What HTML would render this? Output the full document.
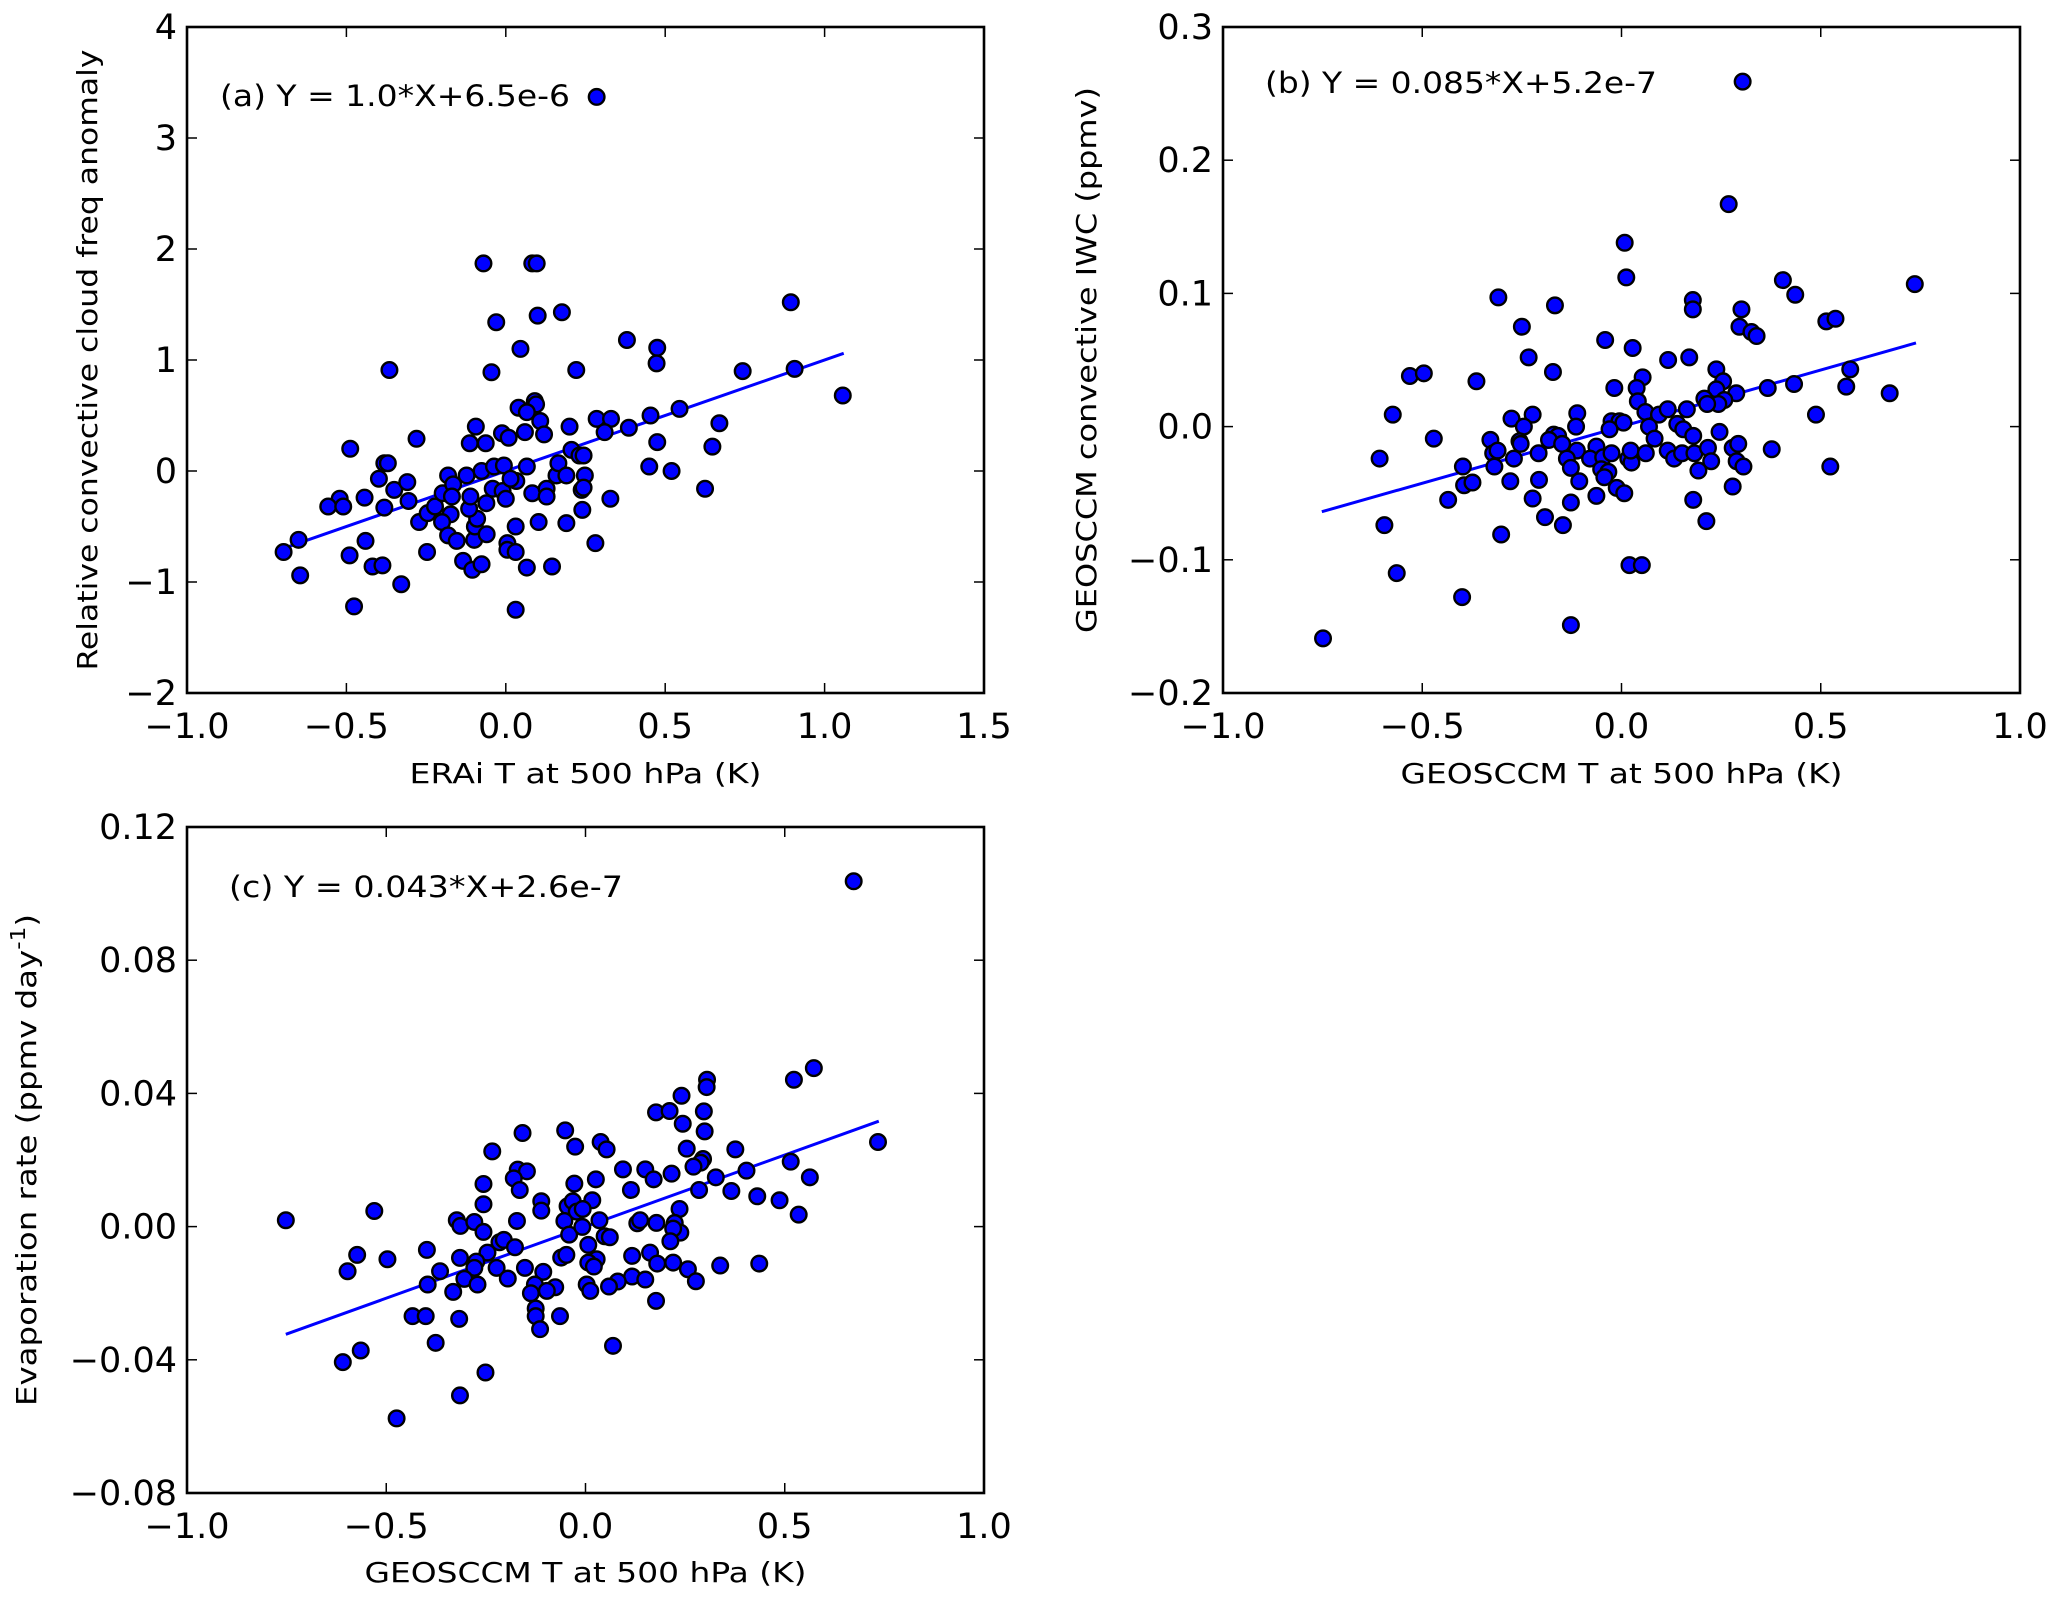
<!DOCTYPE html>
<html><head><meta charset="utf-8"><style>
html,body{margin:0;padding:0;background:#fff;}
svg{display:block;font-family:"DejaVu Sans","Liberation Sans",sans-serif;}
</style></head><body>
<svg id="fig" width="2067" height="1605" viewBox="0 0 2067 1605" xmlns="http://www.w3.org/2000/svg"></svg>
<script>
// ---- Panel (a) data ----
const aX = [0.285,-0.07,0.083,0.097,0.894,-0.03,0.10,0.176,0.38,0.475,0.473,0.046,-0.365,-0.045,0.221,0.743,0.906,1.057,0.091,0.095,0.04,0.066,0.108,0.285,0.33,0.31,0.386,0.454,0.545,0.67,0.648,0.475,0.45,0.52,0.625,-0.094,-0.012,0.009,0.06,0.12,-0.113,-0.063,0.2,-0.28,-0.488,-0.381,-0.37,-0.398,-0.35,-0.309,-0.305,-0.381,-0.443,-0.521,-0.557,-0.51,-0.272,-0.245,-0.222,-0.198,-0.181,-0.165,-0.169,-0.173,-0.2,-0.181,-0.154,-0.247,-0.44,-0.49,-0.418,-0.387,-0.328,-0.476,-0.645,-0.65,-0.697,-0.134,-0.105,-0.076,-0.099,-0.097,-0.06,-0.09,-0.115,-0.111,-0.123,-0.076,-0.061,-0.041,-0.037,-0.01,0.0,-0.006,0.033,0.015,0.066,0.005,0.005,0.031,0.031,0.031,0.066,0.083,0.103,0.128,0.128,0.145,0.159,0.165,0.19,0.19,0.206,0.231,0.244,0.248,0.238,0.244,0.24,0.281,0.328];
const aY = [3.37,1.87,1.87,1.87,1.52,1.34,1.40,1.43,1.18,1.11,0.97,1.10,0.91,0.89,0.91,0.90,0.92,0.68,0.63,0.60,0.57,0.53,0.45,0.47,0.47,0.35,0.39,0.50,0.56,0.43,0.22,0.26,0.04,0.00,-0.16,0.40,0.34,0.30,0.35,0.33,0.25,0.25,0.40,0.29,0.20,0.07,0.07,-0.07,-0.17,-0.10,-0.27,-0.33,-0.24,-0.25,-0.32,-0.32,-0.46,-0.38,-0.32,-0.20,-0.04,-0.12,-0.23,-0.39,-0.46,-0.58,-0.63,-0.73,-0.63,-0.76,-0.86,-0.85,-1.02,-1.22,-0.94,-0.62,-0.73,-0.81,-0.89,-0.84,-0.62,-0.50,-0.57,-0.43,-0.34,-0.23,-0.04,0.0,-0.29,-0.16,0.04,-0.18,-0.25,0.05,-0.09,-0.07,0.04,-0.65,-0.71,-0.73,-0.50,-1.25,-0.87,-0.20,-0.46,-0.16,-0.23,-0.86,-0.04,0.07,-0.04,-0.47,0.19,0.14,0.14,-0.04,-0.17,-0.15,-0.35,-0.65,-0.25];
const aFit = [1.0, 6.5e-6, -0.693, 1.06];
const aXTicks = [-1.0,-0.5,0.0,0.5,1.0,1.5];
const aYTicks = [-2,-1,0,1,2,3,4];
const aXTickLabels = ["\u22121.0","\u22120.5","0.0","0.5","1.0","1.5"];
const aYTickLabels = ["\u22122","\u22121","0","1","2","3","4"];

// ---- Panel (b) data ----
const bX = [0.304,0.269,0.008,0.012,-0.309,-0.167,-0.25,0.405,0.436,0.736,0.179,0.179,0.301,0.296,0.326,0.339,0.514,0.537,-0.041,0.028,-0.233,0.117,0.17,-0.531,-0.496,-0.364,-0.172,0.238,0.574,0.255,0.053,0.038,-0.018,0.041,0.367,0.433,0.564,0.673,0.238,0.288,0.258,0.208,0.243,0.215,0.164,-0.574,-0.276,-0.223,0.488,0.06,0.094,0.116,-0.111,-0.245,-0.114,-0.025,-0.005,0.005,-0.03,0.069,0.14,0.155,0.18,0.246,-0.471,-0.329,-0.256,-0.253,-0.17,-0.159,-0.182,-0.149,-0.112,-0.063,0.083,-0.607,-0.322,-0.311,-0.27,-0.208,-0.137,-0.079,-0.046,-0.025,0.017,0.025,0.023,0.061,0.116,0.132,0.152,0.183,0.217,0.225,0.279,0.293,0.289,0.306,0.377,0.524,-0.398,-0.319,-0.127,-0.051,-0.033,-0.043,0.193,-0.395,-0.374,-0.279,-0.207,-0.106,-0.012,0.007,0.279,-0.435,-0.223,-0.063,0.18,-0.127,-0.192,-0.595,-0.147,0.213,-0.302,0.02,0.051,-0.564,-0.4,-0.127,-0.749];
const bY = [0.259,0.167,0.138,0.112,0.097,0.091,0.075,0.110,0.099,0.107,0.095,0.088,0.088,0.075,0.071,0.068,0.079,0.081,0.065,0.059,0.052,0.050,0.052,0.038,0.040,0.034,0.041,0.043,0.043,0.034,0.037,0.029,0.029,0.019,0.029,0.032,0.030,0.025,0.028,0.025,0.020,0.021,0.017,0.017,0.013,0.009,0.006,0.009,0.009,0.011,0.009,0.013,0.010,0.0,0.0,0.004,0.004,0.003,-0.002,0.0,0.002,-0.002,-0.007,-0.004,-0.009,-0.010,-0.011,-0.013,-0.006,-0.007,-0.010,-0.013,-0.018,-0.015,-0.009,-0.024,-0.020,-0.018,-0.024,-0.020,-0.024,-0.024,-0.023,-0.020,-0.024,-0.027,-0.018,-0.020,-0.018,-0.024,-0.020,-0.020,-0.016,-0.026,-0.016,-0.013,-0.026,-0.030,-0.017,-0.030,-0.030,-0.030,-0.031,-0.032,-0.034,-0.038,-0.033,-0.044,-0.042,-0.041,-0.040,-0.041,-0.046,-0.050,-0.045,-0.055,-0.054,-0.052,-0.055,-0.057,-0.068,-0.074,-0.074,-0.071,-0.081,-0.104,-0.104,-0.110,-0.128,-0.149,-0.159];
const bFit = [0.085, 5.2e-7, -0.752, 0.739];
const bXTicks = [-1.0,-0.5,0.0,0.5,1.0];
const bYTicks = [-0.2,-0.1,0.0,0.1,0.2,0.3];
const bXTickLabels = ["\u22121.0","\u22120.5","0.0","0.5","1.0"];
const bYTickLabels = ["\u22120.2","\u22120.1","0.0","0.1","0.2","0.3"];

// ---- Panel (c) data ----
const cX = [0.673,0.573,0.523,0.305,0.304,0.241,0.177,0.211,0.297,0.244,0.299,-0.158,-0.051,-0.026,0.038,0.053,0.254,0.376,0.734,-0.234,0.295,0.289,0.271,0.515,-0.17,-0.147,0.094,0.15,0.216,0.404,-0.18,0.026,0.171,0.327,0.563,-0.256,-0.028,-0.165,0.114,0.285,0.366,0.431,0.487,-0.256,-0.111,-0.111,0.017,-0.045,-0.032,-0.022,-0.007,-0.53,0.236,0.535,-0.752,-0.323,-0.314,-0.279,-0.172,-0.053,0.035,0.13,0.137,0.178,0.224,-0.256,-0.041,-0.008,0.048,0.061,0.238,0.22,-0.216,-0.205,0.007,0.213,-0.573,-0.497,-0.398,-0.246,-0.177,-0.061,-0.048,0.117,0.162,-0.315,-0.274,0.028,0.18,0.22,0.338,0.436,-0.597,-0.365,-0.279,-0.223,-0.152,-0.106,0.007,0.021,0.257,-0.304,-0.271,-0.195,0.117,0.15,0.277,-0.396,-0.127,0.003,0.081,0.059,-0.076,0.012,-0.332,-0.137,-0.097,0.177,-0.125,-0.434,-0.401,-0.125,-0.064,-0.317,-0.114,-0.376,0.069,-0.564,-0.609,-0.251,-0.315,-0.474];
const cY = [0.1037,0.0476,0.0441,0.0441,0.0419,0.0393,0.0343,0.0347,0.0346,0.0309,0.0286,0.0281,0.0289,0.024,0.0254,0.0232,0.0234,0.0232,0.0254,0.0226,0.0203,0.0192,0.018,0.0195,0.0171,0.0166,0.0172,0.0172,0.0159,0.0168,0.0145,0.0142,0.0142,0.0148,0.0148,0.0128,0.0129,0.011,0.011,0.011,0.0107,0.0091,0.0079,0.0067,0.0076,0.0048,0.0079,0.0061,0.0076,0.0045,0.0053,0.0047,0.0053,0.0036,0.0019,0.0019,0.0002,0.0014,0.0017,0.0017,0.0019,0.001,0.0019,0.0011,0.0011,-0.0016,-0.0024,-0.0001,-0.0029,-0.0032,-0.0018,-0.0006,-0.0047,-0.004,-0.0055,-0.0044,-0.0085,-0.0098,-0.007,-0.0078,-0.0062,-0.0093,-0.0085,-0.0088,-0.0078,-0.0094,-0.0105,-0.0098,-0.0111,-0.0108,-0.0117,-0.0111,-0.0134,-0.0134,-0.0124,-0.0124,-0.0124,-0.0136,-0.0108,-0.012,-0.0128,-0.0157,-0.0174,-0.0156,-0.015,-0.0159,-0.0164,-0.0174,-0.0174,-0.0174,-0.0165,-0.018,-0.0182,-0.0193,-0.0196,-0.02,-0.0193,-0.0223,-0.0246,-0.0269,-0.0269,-0.0269,-0.0269,-0.0277,-0.0308,-0.0349,-0.0358,-0.0372,-0.0407,-0.0438,-0.0507,-0.0576];
const cFit = [0.043, 2.6e-7, -0.752, 0.736];
const cXTicks = [-1.0,-0.5,0.0,0.5,1.0];
const cYTicks = [-0.08,-0.04,0.0,0.04,0.08,0.12];
const cXTickLabels = ["\u22121.0","\u22120.5","0.0","0.5","1.0"];
const cYTickLabels = ["\u22120.08","\u22120.04","0.00","0.04","0.08","0.12"];

const NS = "http://www.w3.org/2000/svg";
const svg = document.getElementById('fig');
function mk(tag, attrs, parent) {
  const e = document.createElementNS(NS, tag);
  for (const k in attrs) e.setAttribute(k, attrs[k]);
  (parent || svg).appendChild(e);
  return e;
}

function panel(o) {
  const g = mk('g', {});
  
  
  const L = o.L, R = o.R, T = o.T, B = o.B;
  const sx = v => L + (v - o.xmin) / (o.xmax - o.xmin) * (R - L);
  const sy = v => B - (v - o.ymin) / (o.ymax - o.ymin) * (B - T);
  const f = o.fit;
  const ln = mk('line', {x1: sx(f[2]), y1: sy(f[0]*f[2]+f[1]), x2: sx(f[3]), y2: sy(f[0]*f[3]+f[1]), stroke: '#0000ff', 'stroke-width': 3}, g);
  
  
  for (let i = 0; i < o.xs.length; i++) {
    const c = mk('circle', {cx: sx(o.xs[i]), cy: sy(o.ys[i]), r: 7.8, fill: '#0000ff', stroke: '#000', 'stroke-width': 2.4}, g);
    
    
  }
  const fr = mk('rect', {x: L, y: T, width: R - L, height: B - T, fill: 'none', stroke: '#000', 'stroke-width': 2.6}, g);
  
  
  o.xt.forEach((v, i) => {
    const x = sx(v);
    mk('line', {x1: x, y1: B, x2: x, y2: B - 10, stroke: '#000', 'stroke-width': 1.5}, g);
    mk('line', {x1: x, y1: T, x2: x, y2: T + 10, stroke: '#000', 'stroke-width': 1.5}, g);
    const t = mk('text', {x: x, y: B + 45, 'font-size': 35, 'text-anchor': 'middle', fill: '#000'}, g);
    t.textContent = o.xtl[i];
    
    
  });
  o.yt.forEach((v, i) => {
    const y = sy(v);
    mk('line', {x1: L, y1: y, x2: L + 10, y2: y, stroke: '#000', 'stroke-width': 1.5}, g);
    mk('line', {x1: R, y1: y, x2: R - 10, y2: y, stroke: '#000', 'stroke-width': 1.5}, g);
    const t = mk('text', {x: L - 10, y: y + 12, 'font-size': 35, 'text-anchor': 'end', fill: '#000'}, g);
    t.textContent = o.ytl[i];
    
    
  });
  const xl = mk('text', {x: (L + R) / 2, y: o.xlY, 'font-size': 28, 'text-anchor': 'middle', fill: '#000', textLength: o.xlLen, lengthAdjust: 'spacingAndGlyphs'}, g);
  xl.textContent = o.xlabel;
  
  
  const cy = (T + B) / 2;
  const yl = mk('text', {x: 0, y: 0, 'font-size': 28, 'text-anchor': 'middle', fill: '#000', transform: 'translate(' + o.ylX + ',' + cy + ') rotate(-90)', textLength: o.ylLen, lengthAdjust: 'spacingAndGlyphs'}, g);
  if (o.ylabelSup) {
    yl.appendChild(document.createTextNode(o.ylabel));
    const s = mk('tspan', {'font-size': 20, dy: -11}, yl);
    s.textContent = o.ylabelSup;
    const e = mk('tspan', {dy: 11}, yl);
    e.textContent = ')';
  } else {
    yl.textContent = o.ylabel;
  }
  
  
  const an = mk('text', {x: o.anX, y: o.anY, 'font-size': 29, fill: '#000', textLength: o.anLen, lengthAdjust: 'spacingAndGlyphs'}, g);
  an.textContent = o.ann;
  
  
}

panel({name: 'panel-a', L: 187, R: 984, T: 27, B: 693, xmin: -1, xmax: 1.5, ymin: -2, ymax: 4,
  xs: aX, ys: aY, fit: aFit, xt: aXTicks, yt: aYTicks, xtl: aXTickLabels, ytl: aYTickLabels,
  xlabel: 'ERAi T at 500 hPa (K)', xlY: 783, xlLen: 352,
  ylabel: 'Relative convective cloud freq anomaly', ylX: 97, ylLen: 621,
  ann: '(a) Y = 1.0*X+6.5e-6', anX: 220, anY: 106, anLen: 350});
panel({name: 'panel-b', L: 1223, R: 2020, T: 27, B: 693, xmin: -1, xmax: 1.0, ymin: -0.2, ymax: 0.3,
  xs: bX, ys: bY, fit: bFit, xt: bXTicks, yt: bYTicks, xtl: bXTickLabels, ytl: bYTickLabels,
  xlabel: 'GEOSCCM T at 500 hPa (K)', xlY: 783, xlLen: 442,
  ylabel: 'GEOSCCM convective IWC (ppmv)', ylX: 1096, ylLen: 546,
  ann: '(b) Y = 0.085*X+5.2e-7', anX: 1265, anY: 93, anLen: 392});
panel({name: 'panel-c', L: 187, R: 984, T: 827, B: 1493, xmin: -1, xmax: 1.0, ymin: -0.08, ymax: 0.12,
  xs: cX, ys: cY, fit: cFit, xt: cXTicks, yt: cYTicks, xtl: cXTickLabels, ytl: cYTickLabels,
  xlabel: 'GEOSCCM T at 500 hPa (K)', xlY: 1582, xlLen: 442,
  ylabel: 'Evaporation rate (ppmv day', ylabelSup: '-1', ylX: 36, ylLen: 492,
  ann: '(c) Y = 0.043*X+2.6e-7', anX: 229, anY: 897, anLen: 394});
</script>
</body></html>
